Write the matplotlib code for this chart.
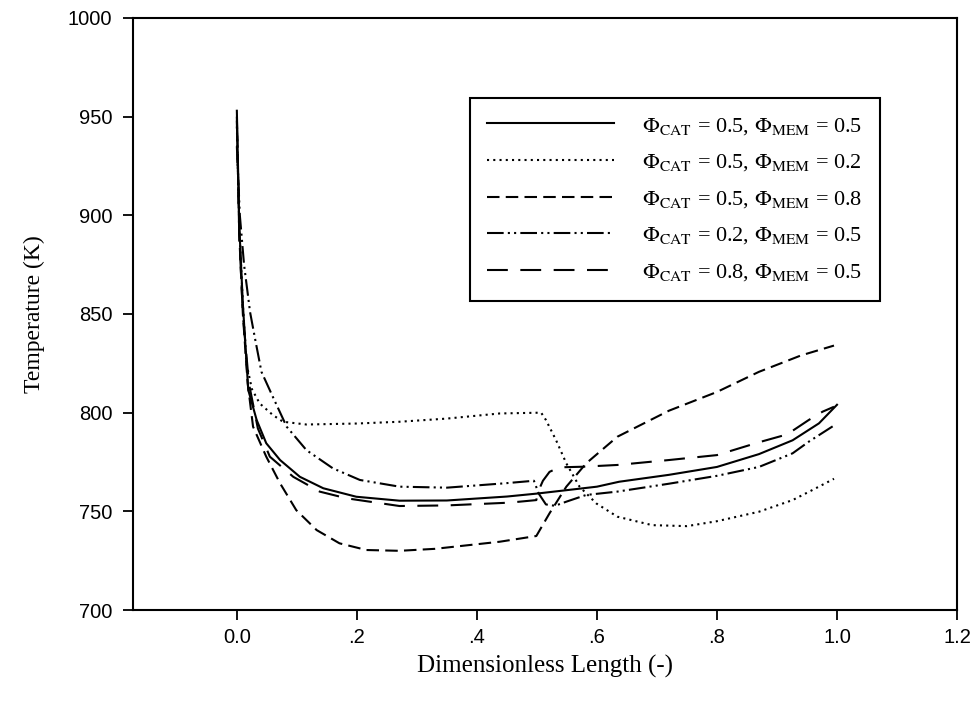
import numpy as np
import matplotlib.pyplot as plt

plt.rcParams['mathtext.fontset'] = 'stix'

# solid: phi_cat = 0.5, phi_mem = 0.5
x_a = [0, 0.004, 0.01, 0.019, 0.033, 0.049, 0.072, 0.105, 0.144, 0.199, 0.271, 0.35, 0.45, 0.5,
       0.6, 0.637, 0.72, 0.8, 0.87, 0.926, 0.97, 1.0]
y_a = [953, 895, 855, 811.5, 796.3, 784.5, 776, 767.5, 761.7, 757.4, 755.4, 755.5, 757.5, 759,
       762.5, 765, 768.5, 772.5, 779, 786, 794.6, 804]

# dotted: phi_cat = 0.5, phi_mem = 0.2
x_b = [0, 0.004, 0.01, 0.016, 0.025, 0.038, 0.06, 0.077, 0.116, 0.2, 0.271, 0.35, 0.438, 0.507,
       0.515, 0.532, 0.549, 0.571, 0.599, 0.634, 0.692, 0.75, 0.8, 0.87, 0.926, 0.959, 0.995]
y_b = [945, 895, 855, 825, 812, 804.7, 798.8, 795.4, 794, 794.5, 795.4, 797, 799.6, 800,
       796.3, 786, 774.3, 762.5, 754, 747.3, 743, 742.5, 745, 749.8, 755.7, 760.8, 766.5]

# short dash: phi_cat = 0.5, phi_mem = 0.8
x_c = [0, 0.004, 0.01, 0.018, 0.027, 0.049, 0.072, 0.099, 0.133, 0.171, 0.216, 0.271, 0.33, 0.438,
       0.499, 0.521, 0.549, 0.582, 0.634, 0.72, 0.8, 0.87, 0.94, 0.995]
y_c = [950, 890, 850, 815, 792.9, 777.7, 764.2, 750.6, 740.5, 733.8, 730.4, 730, 731, 734.6,
       737.5, 749, 762.5, 774.3, 787.8, 801, 810.5, 820.7, 829, 834]

# dash-dot-dot: phi_cat = 0.2, phi_mem = 0.5
x_d = [0, 0.005, 0.012, 0.022, 0.03, 0.041, 0.06, 0.083, 0.116, 0.16, 0.205, 0.271, 0.35, 0.446,
       0.495, 0.503, 0.515, 0.53, 0.549, 0.582, 0.634, 0.72, 0.8, 0.87, 0.926, 0.953, 0.995]
y_d = [935, 900, 875, 851, 838, 820.7, 808, 792.9, 781, 771.8, 765.9, 762.5, 762, 764.2,
       765.5, 759, 753.5, 752.8, 754.9, 758.3, 760, 764, 768, 772.5, 779.4, 785.3, 793.5]

# long dash: phi_cat = 0.8, phi_mem = 0.5
x_e = [0, 0.004, 0.01, 0.02, 0.035, 0.055, 0.094, 0.138, 0.183, 0.271, 0.35, 0.454, 0.499, 0.502,
       0.51, 0.521, 0.537, 0.576, 0.634, 0.72, 0.8, 0.87, 0.917, 0.953, 0.976, 0.995]
y_e = [948, 890, 850, 815, 792, 777.7, 767.5, 760, 756.6, 752.7, 753, 754.4, 755.7, 760,
       765.5, 770, 772.3, 772.6, 773.5, 776, 778.5, 785, 789, 796.3, 800.5, 803]

labels = [r'$\Phi_{\rm CAT}$ = 0.5, $\Phi_{\rm MEM}$ = 0.5',
          r'$\Phi_{\rm CAT}$ = 0.5, $\Phi_{\rm MEM}$ = 0.2',
          r'$\Phi_{\rm CAT}$ = 0.5, $\Phi_{\rm MEM}$ = 0.8',
          r'$\Phi_{\rm CAT}$ = 0.2, $\Phi_{\rm MEM}$ = 0.5',
          r'$\Phi_{\rm CAT}$ = 0.8, $\Phi_{\rm MEM}$ = 0.5']

xticks = [0, 0.2, 0.4, 0.6, 0.8, 1.0, 1.2]
xticklabels = ['0.0', '.2', '.4', '.6', '.8', '1.0', '1.2']
yticks = [700, 750, 800, 850, 900, 950, 1000]

fig = plt.figure(figsize=(9.71, 7.08), dpi=100)
ax = fig.add_axes([0.137, 0.1384, 0.8486, 0.8362])

ax.plot(x_a, y_a, color='black', lw=1.5, linestyle='-', label=labels[0])
ax.plot(x_b, y_b, color='black', lw=1.5, linestyle=(0, (1, 2)), label=labels[1])
ax.plot(x_c, y_c, color='black', lw=1.5, linestyle=(0, (6, 3)), label=labels[2])
ax.plot(x_d, y_d, color='black', lw=1.5, linestyle=(0, (8, 2, 1, 2, 1, 2)), label=labels[3])
ax.plot(x_e, y_e, color='black', lw=1.5, linestyle=(0, (10, 6)), label=labels[4])

ax.set_xlim(-0.173, 1.2)
ax.set_ylim(700, 1000)
ax.set_xticks(xticks)
ax.set_xticklabels(xticklabels)
ax.set_yticks(yticks)
ax.tick_params(direction='out', length=7, width=1.3, labelsize=14.5, top=False, right=False)
ax.tick_params(axis='x', pad=6)
ax.tick_params(axis='y', pad=8)
for lab in ax.get_xticklabels() + ax.get_yticklabels():
    lab.set_fontfamily('Liberation Sans')
for s in ax.spines.values():
    s.set_linewidth(1.5)

ax.set_xlabel('Dimensionless Length (-)', fontsize=18, fontfamily='Liberation Serif', labelpad=6)
ax.set_ylabel('Temperature (K)', fontsize=17, fontfamily='Liberation Serif', labelpad=16)

leg = ax.legend(loc='upper right', bbox_to_anchor=(0.9066, 0.865), borderaxespad=0,
                fancybox=False, edgecolor='black', framealpha=1, handlelength=5.7,
                handletextpad=1.26, labelspacing=0.7, borderpad=0.8,
                prop={'family': 'Liberation Serif', 'size': 16})
leg.get_frame().set_linewidth(1.5)

fig.savefig('out.png', dpi=100)
